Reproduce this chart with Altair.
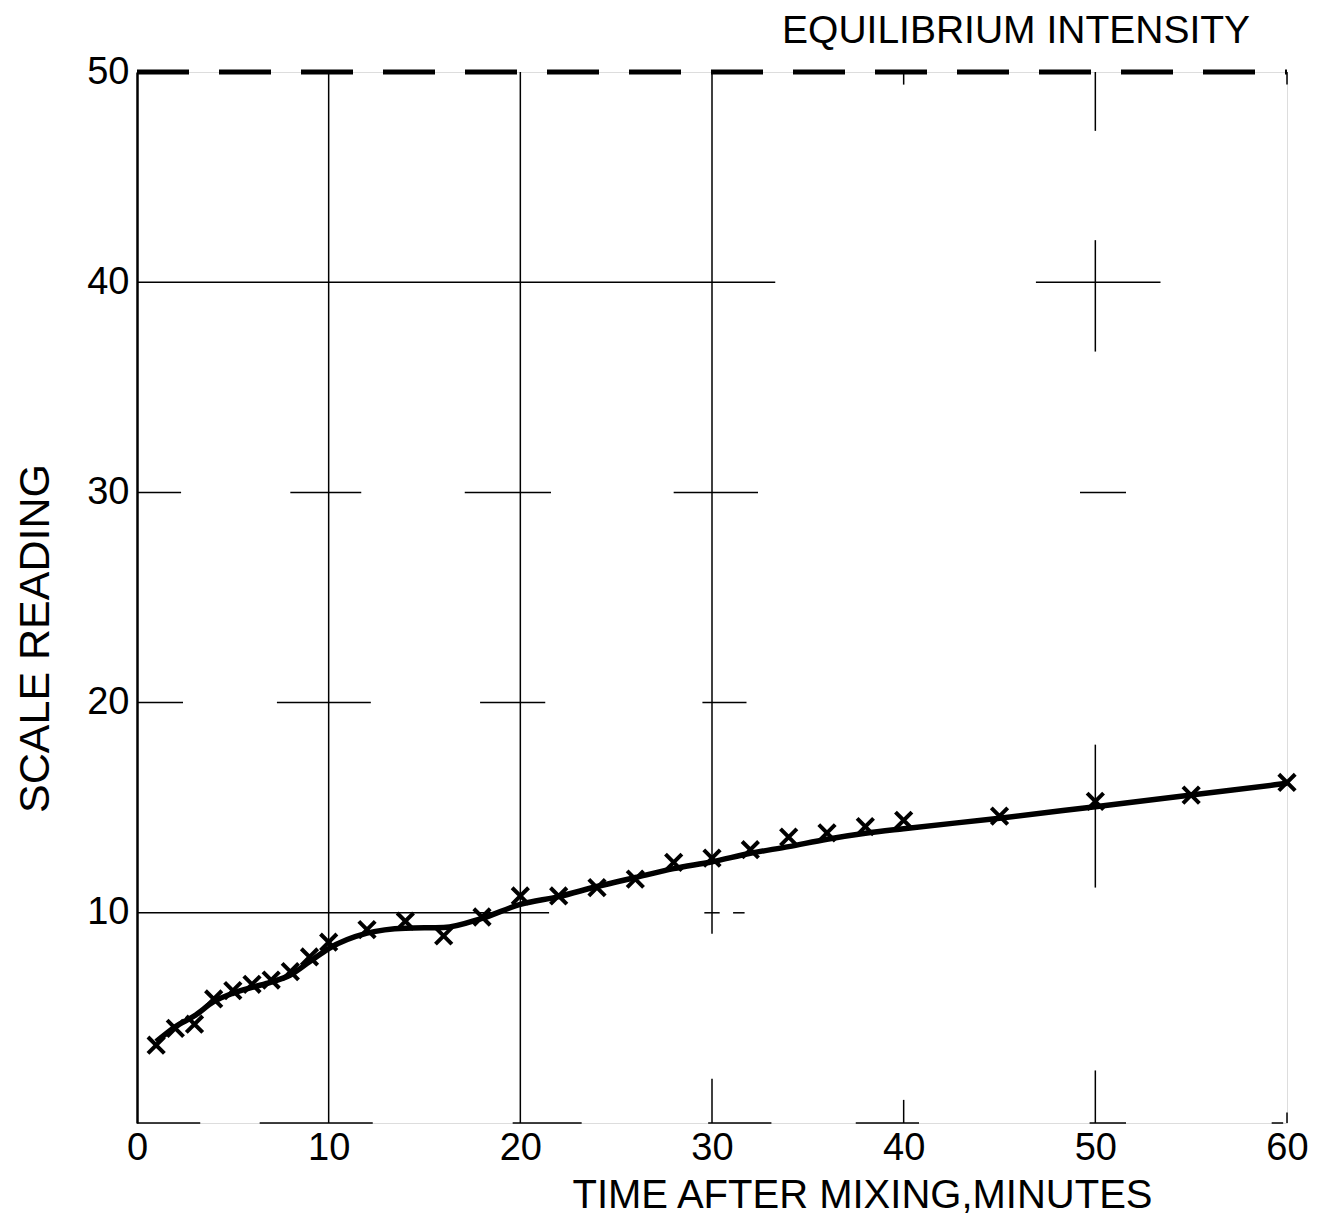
import altair as alt
import pandas as pd

# measured points (x markers)
time_pts = [1, 2, 3, 4, 5, 6, 7, 8, 9, 10, 12, 14, 16, 18, 20, 22, 24, 26, 28, 30,
            32, 34, 36, 38, 40, 45, 50, 55, 60]
reading_pts = [3.7, 4.5, 4.7, 5.9, 6.3, 6.6, 6.8, 7.2, 7.9, 8.6, 9.2, 9.6, 8.9, 9.8, 10.8,
               10.8, 11.2, 11.6, 12.4, 12.6, 13.0, 13.6, 13.8, 14.1, 14.4, 14.6, 15.3, 15.6, 16.2]

# smooth drawn curve
curve_t = [1, 2, 3, 4, 5, 6, 7, 8, 9, 10, 12, 14, 16, 18, 20, 22, 24, 26, 28, 30,
           32, 34, 36, 38, 40, 45, 50, 55, 60]
curve_v = [3.87, 4.58, 5.1, 5.77, 6.17, 6.45, 6.7, 7.04, 7.67, 8.3, 9.03, 9.27, 9.3, 9.74,
           10.4, 10.77, 11.25, 11.68, 12.1, 12.43, 12.83, 13.15, 13.5, 13.78, 14.0, 14.5,
           15.05, 15.6, 16.16]

equilibrium = 50

# partial grid pieces of the graph paper (data units)
seg_x1 = [10, 20, 30, 30, 40, 40, 50, 50, 50, 50, 60, 60,
          0, 46.9,
          0, 8, 17.1, 28, 49.2,
          0, 7.3, 17.9, 29.5,
          0, 29.6, 31.1,
          0, 6.4, 19.6, 29.8, 37.5, 49.7, 59.2]
seg_x2 = [10, 20, 30, 30, 40, 40, 50, 50, 50, 50, 60, 60,
          33.3, 53.4,
          2.3, 11.7, 21.6, 32.4, 51.6,
          2.4, 12.2, 21.3, 31.8,
          21.5, 30.4, 31.7,
          3.3, 12.3, 23.2, 33.1, 40.8, 51.6, 59.8]
seg_y1 = [0, 0, 9.0, 0, 49.4, 0, 47.2, 36.7, 11.2, 0, 49.4, 0,
          40, 40,
          30, 30, 30, 30, 30,
          20, 20, 20, 20,
          10, 10, 10,
          0, 0, 0, 0, 0, 0, 0]
seg_y2 = [50, 50, 50, 2.1, 50, 1.1, 50, 42, 18, 2.5, 50, 0.5,
          40, 40,
          30, 30, 30, 30, 30,
          20, 20, 20, 20,
          10, 10, 10,
          0, 0, 0, 0, 0, 0, 0]

x_ticks = [0, 10, 20, 30, 40, 50, 60]
y_ticks = [10, 20, 30, 40, 50]

pts = pd.DataFrame({"t": time_pts, "v": reading_pts})
curve = pd.DataFrame({"t": curve_t, "v": curve_v})
segs = pd.DataFrame({"x1": seg_x1, "x2": seg_x2, "y1": seg_y1, "y2": seg_y2})
eq = pd.DataFrame({"x1": [0], "x2": [60], "y": [equilibrium]})

FONT = "Liberation Sans"
TFONT = "Liberation Sans Narrow, Liberation Sans"

xscale = alt.Scale(domain=[0, 60], nice=False, zero=False)
yscale = alt.Scale(domain=[0, 50], nice=False, zero=False)

xaxis = alt.Axis(values=x_ticks, grid=False, domain=False, ticks=False,
                 labelFontSize=38, labelFont=FONT, labelColor="black", labelPadding=6,
                 title="TIME AFTER MIXING,MINUTES", titleFont=TFONT, titleFontSize=40,
                 titleFontWeight="normal", titleColor="black",
                 titleX=725, titleY=72, titleBaseline="middle", titleAnchor="middle",
                 titleAlign="center", labelFlush=False)
yaxis = alt.Axis(values=y_ticks, grid=False, domain=True, domainColor="black",
                 domainWidth=2.5, ticks=False,
                 labelFontSize=38, labelFont=FONT, labelColor="black", labelPadding=8,
                 title="SCALE  READING", titleFont=FONT, titleFontSize=43,
                 titleFontWeight="normal", titleColor="black",
                 titleX=-102, titleY=566, titleBaseline="middle", titleAlign="center",
                 titleAngle=270, labelFlush=False)

grid = alt.Chart(segs).mark_rule(color="black", strokeWidth=1.5).encode(
    x=alt.X("x1:Q", scale=xscale, axis=xaxis),
    x2="x2:Q",
    y=alt.Y("y1:Q", scale=yscale, axis=yaxis),
    y2="y2:Q",
)

eqline = alt.Chart(eq).mark_rule(color="black", strokeWidth=5, strokeDash=[52, 30]).encode(
    x="x1:Q", x2="x2:Q", y="y:Q"
)

line = alt.Chart(curve).mark_line(color="black", strokeWidth=5.5, interpolate="monotone").encode(
    x="t:Q", y="v:Q"
)

xshape = "M -1 -1 L 1 1 M -1 1 L 1 -1"
markers = alt.Chart(pts).mark_point(shape=xshape, filled=False, color="black",
                                    strokeWidth=4, size=270, opacity=1).encode(
    x="t:Q", y="v:Q"
)

chart = alt.layer(grid, eqline, line, markers).properties(
    width=1150, height=1051,
    padding={"left": 137, "top": 72, "right": 45, "bottom": 96},
    autosize=alt.AutoSizeParams(type="none"),
    title=alt.TitleParams("EQUILIBRIUM INTENSITY", anchor="end", dx=-58, offset=2,
                          font=TFONT, fontSize=39, fontWeight="normal", color="black"),
).configure_view(stroke=None).configure(background="white")

chart.save("out.html", embed_options={"renderer": "svg", "actions": False})
